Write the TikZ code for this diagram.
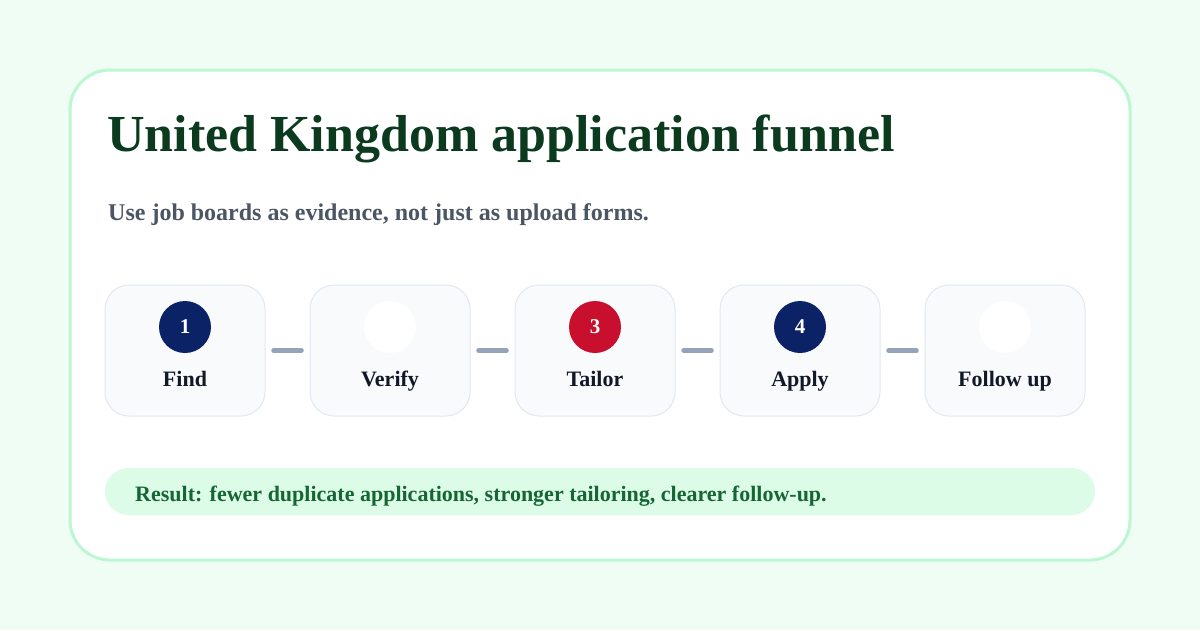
\documentclass[tikz,border=0pt]{standalone}
\usepackage{fontspec}
\setmainfont{Liberation Serif}
\begin{document}
\begin{tikzpicture}[x=1pt,y=-1pt,
  stepbox/.style={draw=stroke,fill=boxfill,line width=1pt,rounded corners=24pt,minimum width=160pt,minimum height=131pt,inner sep=0pt},
  badge/.style={circle,minimum size=52pt,inner sep=0pt,text=white,font=\bfseries\fontsize{21}{24}\selectfont},
  lbl/.style={anchor=base,text=labeltext,font=\bfseries\fontsize{22}{26}\selectfont},
  conn/.style={draw=conncol,line width=4.5pt,line cap=round,shorten <=8pt,shorten >=8pt}]
\definecolor{bg}{HTML}{F0FDF4}
\definecolor{cardstroke}{HTML}{BBF7D0}
\definecolor{titlecol}{HTML}{0B3A1E}
\definecolor{subcol}{HTML}{4B5563}
\definecolor{stroke}{HTML}{E2E8F0}
\definecolor{boxfill}{HTML}{F8FAFC}
\definecolor{navy}{HTML}{0B2366}
\definecolor{redc}{HTML}{C8102E}
\definecolor{labeltext}{HTML}{111827}
\definecolor{conncol}{HTML}{94A3B8}
\definecolor{resfill}{HTML}{DCFCE7}
\definecolor{restext}{HTML}{166534}
\useasboundingbox (0,0) rectangle (1200,630);
\fill[bg] (0,0) rectangle (1200,630);
\draw[cardstroke,fill=white,line width=3pt,rounded corners=40pt] (70,70) rectangle (1130,560);
\node[anchor=base west,inner sep=0pt,text=titlecol,font=\bfseries\fontsize{52}{60}\selectfont] (title) at (107,151) {United Kingdom application funnel};
\node[anchor=base west,inner sep=0pt,text=subcol,font=\bfseries\fontsize{24}{28}\selectfont] (sub) at (108,220) {Use job boards as evidence, not just as upload forms.};
\foreach \i/\nm/\col/\num in {0/Find/navy/1,1/Verify/white/,2/Tailor/redc/3,3/Apply/navy/4,4/Follow up/white/}{
  \node[stepbox] (b\i) at (185+205*\i,350.5) {};
  \node[badge,fill=\col] (c\i) at (185+205*\i,327) {\num};
  \node[lbl,inner sep=0pt] (l\i) at (185+205*\i,386) {\nm};
}
\draw[conn] (b0.east) -- (b1.west);
\draw[conn] (b1.east) -- (b2.west);
\draw[conn] (b2.east) -- (b3.west);
\draw[conn] (b3.east) -- (b4.west);
\node[fill=resfill,rounded corners=23.5pt,minimum width=990pt,minimum height=47pt,inner sep=0pt] (res) at (600,491.5) {};
\node[anchor=base west,inner sep=0pt,text=restext,font=\bfseries\fontsize{22}{26}\selectfont] (restxt) at (135,501) {Result: fewer duplicate applications, stronger tailoring, clearer follow-up.};
\end{tikzpicture}
\end{document}
